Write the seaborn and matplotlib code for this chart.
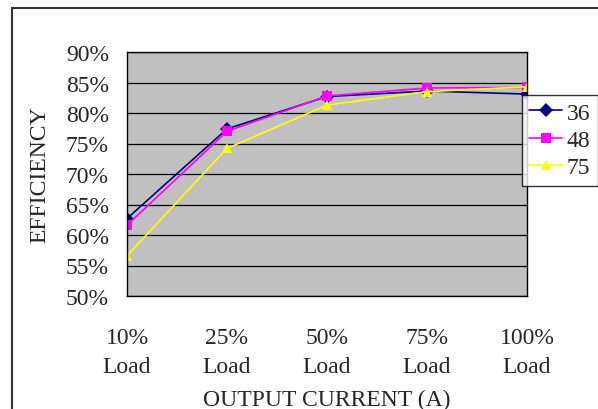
import pandas as pd
import matplotlib.pyplot as plt
import seaborn as sns
from matplotlib.patches import Rectangle
from matplotlib.ticker import MultipleLocator

# chart data
loads = ['10%\nLoad', '25%\nLoad', '50%\nLoad', '75%\nLoad', '100%\nLoad']
eff_36 = [62.7, 77.4, 82.7, 83.6, 83.1]
eff_48 = [61.6, 77.0, 82.8, 84.1, 84.2]
eff_75 = [56.6, 74.2, 81.3, 83.5, 84.3]
series_names = ['36', '48', '75']

rows = []
for name, vals in zip(series_names, [eff_36, eff_48, eff_75]):
    for i, v in enumerate(vals):
        rows.append({'pos': i, 'eff': v, 'series': name})
df = pd.DataFrame(rows)

sns.set_style('white')
plt.rcParams['font.family'] = ['Liberation Serif', 'DejaVu Serif']

fig = plt.figure(figsize=(5.98, 4.10), dpi=100)
# outer chart frame
fig.patches.append(Rectangle((12 / 598, -0.05), 1.1, 1 - 9 / 410 + 0.05,
                             transform=fig.transFigure, fill=False,
                             edgecolor='#333333', linewidth=1.5))

ax = fig.add_axes([127 / 598, 1 - 297 / 410, 400 / 598, 244 / 410])
ax.set_facecolor('#C0C0C0')

palette = {'36': '#000080', '48': '#FF00FF', '75': '#FFFF00'}
markers = {'36': 'D', '48': 's', '75': '^'}
sns.lineplot(data=df, x='pos', y='eff', hue='series', style='series',
             palette=palette, markers=markers, dashes=False, ax=ax,
             linewidth=1.2, markersize=7, markeredgewidth=0, legend=False)

ax.set_xlim(0, 4)
ax.set_ylim(50, 90)
ax.yaxis.set_major_locator(MultipleLocator(5))
ax.yaxis.set_minor_locator(MultipleLocator(2.5))
ax.set_yticklabels([f'{int(v)}%' for v in ax.get_yticks()])
ax.set_xticks(range(5))
ax.set_xticks([0.5, 1.5, 2.5, 3.5], minor=True)
ax.set_xticklabels(loads, linespacing=1.55)
ax.grid(axis='y', which='major', color='black', linewidth=0.9)
ax.set_axisbelow(True)
ax.tick_params(axis='both', which='both', direction='in', length=5,
               color='black', labelsize=17)
ax.tick_params(axis='x', pad=22)
ax.tick_params(axis='y', pad=13)
for s in ax.spines.values():
    s.set_color('black')
    s.set_linewidth(1)

ax.set_xlabel('OUTPUT CURRENT (A)', fontsize=17, labelpad=8)
ax.set_ylabel('EFFICIENCY', fontsize=17, labelpad=11)

# legend
handles = [plt.Line2D([], [], color=palette[n], marker=markers[n],
                      markersize=7, markeredgewidth=0, linewidth=1.2)
           for n in series_names]
leg = fig.legend(handles, series_names, loc='upper left',
                 bbox_to_anchor=(522 / 598, 1 - 96 / 410), fontsize=17,
                 frameon=True, fancybox=False, edgecolor='black',
                 borderpad=0.3, labelspacing=0.25, handlelength=1.4,
                 handletextpad=0.2, borderaxespad=0)
leg.get_frame().set_linewidth(1)

fig.savefig('out.png', dpi=100)
